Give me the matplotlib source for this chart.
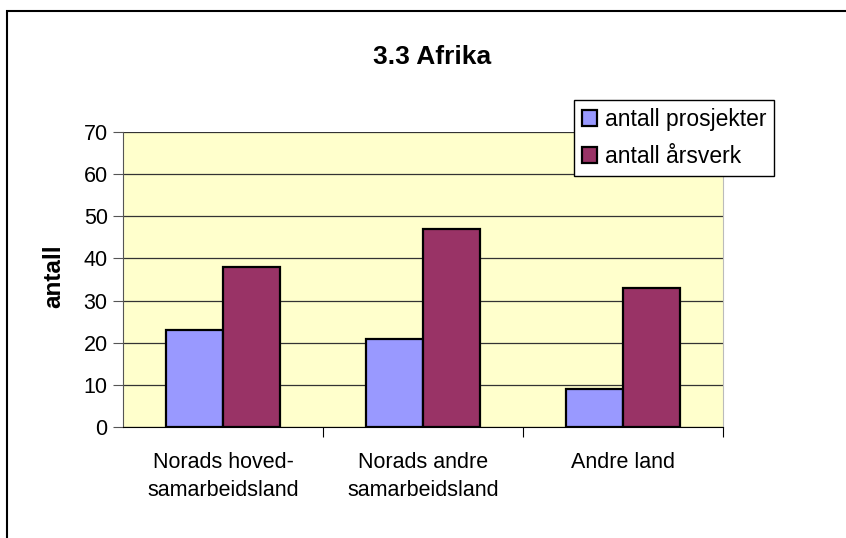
import matplotlib.pyplot as plt
import numpy as np
from matplotlib.patches import Rectangle

categories = ['Norads hoved-\nsamarbeidsland', 'Norads andre\nsamarbeidsland', 'Andre land']
prosjekter = [23, 21, 9]
aarsverk = [38, 47, 33]
series_names = ['antall prosjekter', 'antall årsverk']

plt.rcParams['font.family'] = ['Liberation Sans', 'DejaVu Sans']

fig = plt.figure(figsize=(8.46, 5.38), dpi=100)
ax = fig.add_axes([123 / 846, 1 - 427 / 538, 600 / 846, 295 / 538])

# outer chart border (cut off on right/bottom like the original)
fig.patches.append(Rectangle((7 / 846, -0.1), 1.2, 1 - 11 / 538 + 0.1,
                             transform=fig.transFigure, fill=False,
                             edgecolor='black', linewidth=1.5))

x = np.arange(len(categories))
w = 1 / 3.5
ax.set_facecolor('#FFFFCC')
ax.bar(x - w / 2, prosjekter, w, color='#9999FF', edgecolor='black',
       linewidth=1.6, label=series_names[0], zorder=3)
ax.bar(x + w / 2, aarsverk, w, color='#993366', edgecolor='black',
       linewidth=1.6, label=series_names[1], zorder=3)

ax.set_xlim(-0.5, 2.5)
ax.set_ylim(0, 70)
ax.set_yticks(range(0, 71, 10))
ax.yaxis.grid(True, color='#333333', linewidth=0.9, zorder=1)
ax.tick_params(axis='y', labelsize=15.5, direction='out', length=7, width=0.8,
               color='#555555', pad=4)

ax.set_xticks(x)
ax.set_xticklabels(categories, fontsize=15.5, linespacing=1.45)
ax.tick_params(axis='x', length=0, pad=18)
ax.set_xticks([0.5, 1.5, 2.5], minor=True)
ax.tick_params(axis='x', which='minor', length=7, width=0.8, direction='out')

ax.spines['top'].set_visible(False)
ax.spines['right'].set_color('#BBBBBB')
ax.spines['left'].set_color('#555555')
ax.spines['bottom'].set_color('black')

fig.text(54 / 846, 1 - 276 / 538, 'antall', rotation=90, ha='center',
         va='center', fontsize=17.5, fontweight='bold')
fig.text(432 / 846, 1 - 57 / 538, '3.3 Afrika', ha='center', va='center',
         fontsize=19, fontweight='bold')

leg = fig.legend(loc='upper left', bbox_to_anchor=(574 / 846, 1 - 100 / 538),
                 fontsize=16.5, frameon=True, fancybox=False, borderpad=0.35,
                 handlelength=0.65, handleheight=0.7, handletextpad=0.35,
                 labelspacing=0.6, borderaxespad=0)
leg.get_frame().set_edgecolor('black')
leg.get_frame().set_linewidth(1.0)
leg.get_frame().set_facecolor('white')
leg.get_frame().set_alpha(1)

fig.savefig('out.png', dpi=100)
